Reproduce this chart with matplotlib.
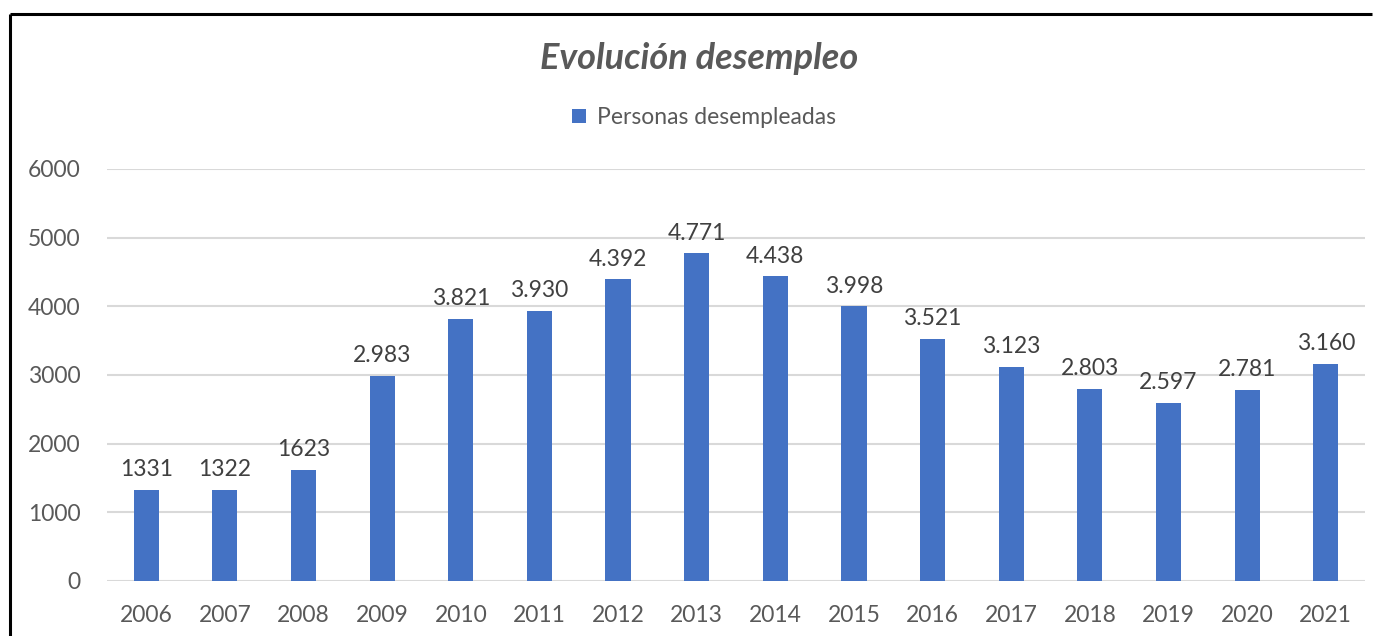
import matplotlib.pyplot as plt
from matplotlib.lines import Line2D

years = ["2006", "2007", "2008", "2009", "2010", "2011", "2012", "2013",
         "2014", "2015", "2016", "2017", "2018", "2019", "2020", "2021"]
desempleados = [1331, 1322, 1623, 2983, 3821, 3930, 4392, 4771,
                4438, 3998, 3521, 3123, 2803, 2597, 2781, 3160]
etiquetas = ["1331", "1322", "1623", "2.983", "3.821", "3.930", "4.392", "4.771",
             "4.438", "3.998", "3.521", "3.123", "2.803", "2.597", "2.781", "3.160"]

plt.rcParams['font.family'] = ['Lato', 'DejaVu Sans']
gris = '#595959'
azul = '#4472C4'


def main():
    fig = plt.figure(figsize=(13.73, 6.36), dpi=100)
    ax = fig.add_axes([0.0779, 0.0865, 0.9163, 0.6478])

    x = range(len(years))
    bars = ax.bar(x, desempleados, width=0.32, color=azul,
                  label='Personas desempleadas', zorder=3)
    for b, txt in zip(bars, etiquetas):
        ax.annotate(txt, (b.get_x() + b.get_width() / 2, b.get_height()),
                    xytext=(0, 7), textcoords='offset points',
                    ha='center', va='bottom', fontsize=16.5, color='#404040')

    ax.set_xlim(-0.5, len(years) - 0.5)
    ax.set_ylim(0, 6000)
    ax.set_yticks(range(0, 6001, 1000))
    ax.set_xticks(list(x))
    ax.set_xticklabels(years)
    ax.tick_params(axis='both', length=0, labelsize=16.5, colors=gris)
    ax.tick_params(axis='y', pad=19)
    ax.tick_params(axis='x', pad=17)
    ax.grid(axis='y', color='#d9d9d9', linewidth=1.5, zorder=0)
    for s in ax.spines.values():
        s.set_visible(False)

    fig.text(0.509, 0.908, 'Evolución desempleo', ha='center', va='center',
             fontsize=26, fontweight='bold', fontstyle='italic', color=gris)
    fig.legend(loc='center', bbox_to_anchor=(0.513, 0.815), frameon=False,
               fontsize=16.5, labelcolor=gris, handlelength=0.6, handleheight=0.6,
               handletextpad=0.5)

    # marco del gráfico
    fig.add_artist(Line2D([10 / 1373, 0.9995], [1 - 14 / 636, 1 - 14 / 636],
                          transform=fig.transFigure, color='black', lw=2.2,
                          solid_capstyle='butt'))
    fig.add_artist(Line2D([10 / 1373, 10 / 1373], [0.0, 1 - 14 / 636],
                          transform=fig.transFigure, color='black', lw=2.2,
                          solid_capstyle='butt'))

    fig.savefig('out.png', dpi=100)


if __name__ == "__main__":
    main()
